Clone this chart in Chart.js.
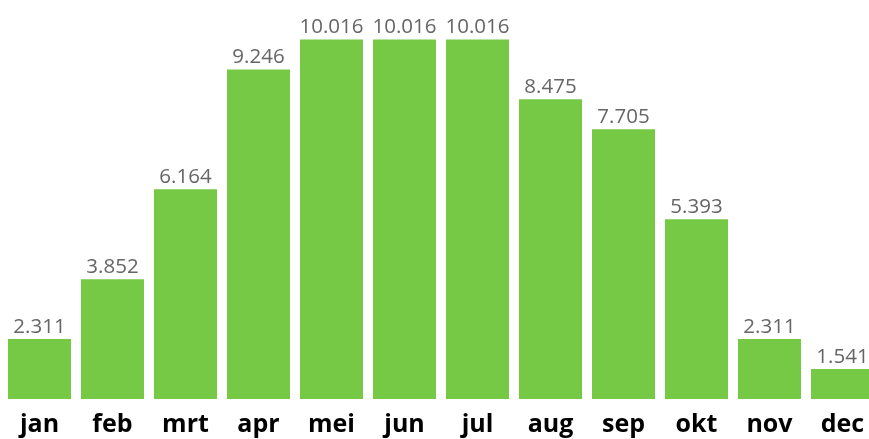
<!DOCTYPE html>
<html>
<head>
<meta charset="utf-8">
<script src="https://cdn.jsdelivr.net/npm/chart.js@4"></script>
<style>
    html, body { margin: 0; padding: 0; background: #fff; overflow: hidden; }
    #wrap { position: absolute; left: 3px; top: 0; width: 876px; height: 439px; }
</style>
</head>
<body>
<div id="wrap"><canvas id="bars"></canvas></div>
<script>
'use strict'

// Data
const MONTHS = ['jan', 'feb', 'mrt', 'apr', 'mei', 'jun', 'jul', 'aug', 'sep', 'okt', 'nov', 'dec'];
const KWH = [2311, 3852, 6164, 9246, 10016, 10016, 10016, 8475, 7705, 5393, 2311, 1541];

// thousands with a dot, Dutch style
const fmt = v => String(v).replace(/\B(?=(\d{3})+(?!\d))/g, '.');

const valueLabels = {
    id: 'valueLabels',
    afterDatasetsDraw(chart) {
        const ctx = chart.ctx;
        const meta = chart.getDatasetMeta(0);
        ctx.save();
        ctx.font = '20.5px "Open Sans"';
        ctx.fillStyle = '#666666';
        ctx.textAlign = 'center';
        ctx.textBaseline = 'alphabetic';
        meta.data.forEach((bar, i) => {
            ctx.fillText(fmt(KWH[i]), bar.x, bar.y - 6);
        });
        ctx.restore();
    }
};

new Chart(document.getElementById('bars'), {
    type: 'bar',
    data: {
        labels: MONTHS,
        datasets: [{
            data: KWH,
            backgroundColor: '#76c944',
            borderWidth: 0,
            categoryPercentage: 0.863,
            barPercentage: 1
        }]
    },
    options: {
        responsive: true,
        maintainAspectRatio: false,
        animation: false,
        layout: { padding: 0 },
        plugins: { legend: { display: false }, tooltip: { enabled: false } },
        scales: {
            x: {
                grid: { display: false, drawTicks: false },
                border: { display: false },
                ticks: {
                    color: '#000',
                    padding: 11,
                    font: { family: 'Open Sans', size: 25, weight: 'bold' }
                },
                afterFit(scale) { scale.height = 40; }
            },
            y: {
                display: false,
                min: 770,
                max: 11030
            }
        }
    },
    plugins: [valueLabels]
});
</script>
</body>
</html>
